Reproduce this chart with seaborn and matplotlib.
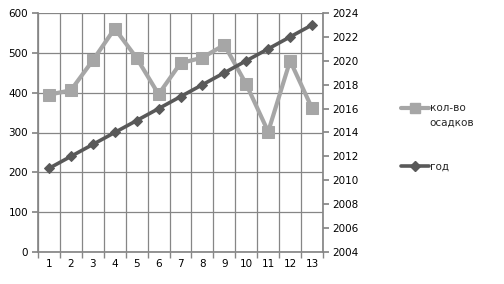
import matplotlib
matplotlib.use("Agg")
import matplotlib.pyplot as plt
import seaborn as sns
import pandas as pd
import numpy as np

sns.set_theme(style="white")
plt.rcParams['font.family'] = ['DejaVu Sans']

positions = list(range(1, 14))
precip = [395, 406, 481, 561, 487, 396, 474, 488, 520, 421, 302, 480, 361]
years = [2011, 2012, 2013, 2014, 2015, 2016, 2017, 2018, 2019, 2020, 2021, 2022, 2023]
left_ticks = [0, 100, 200, 300, 400, 500, 600]
right_ticks = list(range(2004, 2025, 2))
label_precip = ["кол-во", "осадков"]
label_year = "год"

df = pd.DataFrame({"pos": positions, "precip": precip, "year": years})

fig = plt.figure(figsize=(5.04, 2.84), dpi=100)
ax = fig.add_axes([38/504, 1-252/284, (323-38)/504, (252-13)/284])
ax2 = ax.twinx()

c_light = "#a6a6a6"
c_dark = "#595959"
grid_c = "#868686"

sns.lineplot(data=df, x="pos", y="precip", ax=ax, color=c_light, linewidth=3,
             marker="s", markersize=8, markeredgecolor=c_light, zorder=3)
sns.lineplot(data=df, x="pos", y="year", ax=ax2, color=c_dark, linewidth=2.6,
             marker="D", markersize=5.5, markeredgecolor=c_dark, zorder=3)

ax.set_xlim(0.5, 13.5)
ax.set_ylim(0, 600)
ax2.set_ylim(2004, 2024)
ax.set_yticks(left_ticks)
ax2.set_yticks(right_ticks)
ax.set_xticks(positions)
ax.set_xticks(np.arange(0.5, 14, 1), minor=True)
ax.set_xlabel("")
ax.set_ylabel("")
ax2.set_ylabel("")

for yv in left_ticks:
    ax.axhline(yv, color=grid_c, linewidth=0.9, zorder=1)
for xv in np.arange(0.5, 14, 1):
    ax.axvline(xv, color=grid_c, linewidth=0.9, zorder=1)

for a in (ax, ax2):
    for s in a.spines.values():
        s.set_visible(False)
ax2.set_zorder(ax.get_zorder() + 1)
ax2.patch.set_visible(False)

ax.tick_params(axis="x", which="major", length=0, labelsize=7.5, pad=5, colors="black")
ax.tick_params(axis="x", which="minor", length=4, color=grid_c, direction="out", bottom=True)
ax.tick_params(axis="y", length=4, color=grid_c, labelsize=7.5, pad=3, left=True, labelcolor="black")
ax2.tick_params(axis="y", length=4, color=grid_c, labelsize=7.5, pad=3, right=True, labelcolor="black")
ax.spines["left"].set_visible(True)
ax.spines["left"].set_color(grid_c)
ax.spines["bottom"].set_visible(True)
ax.spines["bottom"].set_color(grid_c)
ax2.spines["right"].set_visible(True)
ax2.spines["right"].set_color(grid_c)

h1 = plt.Line2D([], [], color=c_light, linewidth=3, marker="s", markersize=7.5)
h2 = plt.Line2D([], [], color=c_dark, linewidth=2.6, marker="D", markersize=5.5)
blank = plt.Line2D([], [], color="none")
fig.legend([h1, blank, blank, blank, h2],
           [label_precip[0], label_precip[1], " ", " ", label_year],
           loc="upper left", bbox_to_anchor=(396/504, 1-98/284), frameon=False,
           fontsize=7.5, handlelength=2.7, handletextpad=0.05, labelspacing=0.45,
           borderpad=0)

fig.savefig("out.png", dpi=100)
